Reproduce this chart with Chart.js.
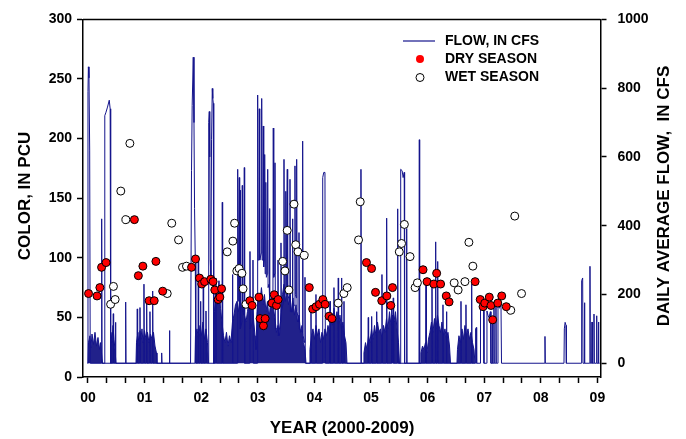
<!DOCTYPE html>
<html>
<head>
<meta charset="utf-8">
<script src="https://cdn.jsdelivr.net/npm/chart.js@4.4.1/dist/chart.umd.min.js"></script>
<style>
  html, body { margin: 0; padding: 0; background: #fff; }
  #wrap { width: 686px; height: 439px; }
</style>
</head>
<body>
<div id="wrap"><canvas id="colorChart" width="686" height="439"></canvas></div>
<script>
// tick labels for the year axis (one per year, minor ticks every 4 months)
const yearLabels = ['00', '01', '02', '03', '04', '05', '06', '07', '08', '09'];
const flowTicks = [0, 200, 400, 600, 800, 1000];

// color samples, [decimal year since 2000, PCU]
const dryPoints = [
  [0.01, 70], [0.16, 68], [0.21, 75], [0.24, 92], [0.32, 96], [0.82, 132], [0.89, 85], [0.97, 93],
  [1.08, 64], [1.17, 64], [1.20, 97], [1.32, 72], [1.83, 92], [1.90, 99], [1.97, 83], [2.01, 78],
  [2.06, 80], [2.17, 82], [2.21, 80], [2.24, 73], [2.30, 65], [2.33, 67], [2.36, 74], [2.86, 64],
  [2.90, 60], [3.02, 67], [3.04, 49], [3.10, 43], [3.13, 49], [3.25, 62], [3.29, 69], [3.33, 60],
  [3.36, 65], [3.91, 75], [3.97, 57], [4.03, 59], [4.09, 61], [4.15, 65], [4.19, 61], [4.26, 51],
  [4.31, 49], [4.92, 96], [5.01, 91], [5.08, 71], [5.19, 64], [5.28, 68], [5.35, 60], [5.38, 75],
  [5.92, 90], [5.99, 80], [6.11, 78], [6.16, 87], [6.23, 78], [6.33, 68], [6.38, 63], [6.84, 80],
  [6.93, 65], [6.98, 59], [7.01, 62], [7.09, 67], [7.12, 60], [7.15, 48], [7.24, 62], [7.31, 68],
  [7.39, 59]
];
const wetPoints = [
  [0.40, 61], [0.45, 76], [0.48, 65], [0.58, 156], [0.67, 132], [0.74, 196], [1.40, 70], [1.48, 129],
  [1.60, 115], [1.67, 92], [1.74, 93], [2.46, 105], [2.56, 114], [2.59, 129], [2.63, 89], [2.67, 91],
  [2.72, 87], [2.74, 74], [2.79, 61], [3.44, 97], [3.48, 89], [3.52, 123], [3.55, 73], [3.64, 145],
  [3.67, 111], [3.71, 105], [3.82, 102], [4.42, 62], [4.52, 70], [4.58, 75], [4.78, 115], [4.81, 147],
  [5.50, 105], [5.54, 112], [5.59, 128], [5.69, 101], [5.78, 75], [5.82, 79], [6.47, 79], [6.54, 73],
  [6.66, 80], [6.73, 113], [6.80, 93], [7.47, 56], [7.54, 135], [7.66, 70]
];

// daily average flow outline (peaks), [decimal year, cfs]
const flowPoints = [
  [-0.009, 0], [0.0, 790], [0.007, 862], [0.018, 830], [0.03, 620], [0.04, 0],
  [0.236, 0], [0.242, 420], [0.249, 0],
  [0.292, 0], [0.297, 720], [0.318, 730], [0.345, 745], [0.376, 765], [0.392, 740], [0.401, 0],
  [0.441, 0], [0.447, 144], [0.453, 0], [0.48, 0], [0.486, 119], [0.492, 0],
  [0.66, 0], [0.666, 178], [0.672, 0], [0.865, 0], [0.871, 158], [0.877, 0],
  [0.913, 0], [0.919, 162], [0.925, 0], [0.983, 0], [0.989, 230], [0.995, 0],
  [1.031, 0], [1.037, 176], [1.043, 0], [1.089, 0], [1.095, 150], [1.101, 0],
  [1.137, 0], [1.143, 210], [1.149, 0], [1.296, 0], [1.302, 30], [1.308, 0],
  [1.434, 0], [1.44, 95], [1.446, 0],
  [1.812, 0], [1.829, 560], [1.841, 750], [1.86, 890], [1.873, 700], [1.883, 450], [1.896, 300], [1.905, 0],
  [1.943, 0], [1.949, 296], [1.955, 0], [1.985, 0], [1.991, 180], [1.997, 0],
  [2.031, 0], [2.037, 224], [2.043, 0], [2.079, 0], [2.085, 152], [2.091, 0],
  [2.125, 0], [2.133, 700], [2.143, 732], [2.152, 600], [2.16, 300], [2.172, 250], [2.183, 650],
  [2.196, 799], [2.205, 770], [2.214, 756], [2.222, 0],
  [2.255, 0], [2.261, 248], [2.267, 0], [2.367, 0], [2.373, 468], [2.379, 0],
  [2.547, 0], [2.553, 258], [2.559, 0],
  [2.639, 0], [2.645, 564], [2.655, 180], [2.673, 540], [2.68, 160], [2.686, 503], [2.692, 100],
  [2.72, 120], [2.726, 517], [2.732, 150], [2.756, 140], [2.762, 569], [2.768, 0],
  [2.856, 0], [2.862, 325], [2.868, 100], [2.909, 120], [2.915, 300], [2.921, 0],
  [2.992, 0], [2.998, 780], [3.006, 300], [3.02, 320], [3.027, 740], [3.035, 300], [3.062, 320],
  [3.069, 770], [3.077, 300], [3.09, 320], [3.097, 690], [3.105, 280], [3.115, 300], [3.122, 607],
  [3.13, 260], [3.139, 280], [3.145, 526], [3.152, 250], [3.169, 260], [3.175, 564], [3.182, 220],
  [3.2, 230], [3.207, 450], [3.214, 180], [3.268, 200], [3.274, 684], [3.282, 250], [3.298, 260],
  [3.304, 583], [3.311, 100], [3.351, 100], [3.357, 300], [3.363, 80], [3.404, 120], [3.41, 350],
  [3.416, 150], [3.457, 180], [3.463, 593], [3.47, 200], [3.49, 210], [3.495, 500], [3.502, 200],
  [3.515, 200], [3.521, 564], [3.528, 200], [3.563, 180], [3.569, 535], [3.576, 150], [3.607, 150],
  [3.613, 420], [3.62, 160], [3.651, 170], [3.657, 574], [3.664, 200], [3.68, 190], [3.687, 593],
  [3.694, 150], [3.722, 120], [3.728, 380], [3.735, 100], [3.787, 90], [3.793, 646], [3.8, 80],
  [3.828, 60], [3.834, 250], [3.84, 0],
  [3.934, 0], [3.94, 150], [3.946, 0], [4.022, 0], [4.028, 200], [4.034, 0],
  [4.141, 0], [4.147, 540], [4.166, 555], [4.187, 555], [4.194, 0],
  [4.27, 0], [4.276, 180], [4.282, 0], [4.34, 0], [4.346, 220], [4.352, 0],
  [4.416, 0], [4.422, 248], [4.428, 0], [4.476, 0], [4.482, 248], [4.488, 0],
  [4.517, 0], [4.523, 180], [4.529, 0], [4.815, 0], [4.823, 564], [4.831, 0],
  [4.946, 0], [4.952, 133], [4.958, 0], [5.006, 0], [5.012, 136], [5.018, 0],
  [5.095, 0], [5.101, 150], [5.107, 0], [5.188, 0], [5.194, 258], [5.2, 0],
  [5.271, 0], [5.277, 422], [5.283, 0], [5.36, 0], [5.366, 180], [5.372, 0],
  [5.388, 0], [5.394, 190], [5.4, 0], [5.466, 0], [5.472, 449], [5.478, 0],
  [5.519, 0], [5.525, 564], [5.55, 560], [5.568, 540], [5.587, 555], [5.594, 0],
  [5.625, 0], [5.631, 392], [5.637, 0], [5.848, 0], [5.854, 650], [5.86, 0],
  [5.966, 0], [5.972, 239], [5.978, 0], [6.072, 0], [6.078, 240], [6.084, 0],
  [6.137, 0], [6.143, 353], [6.149, 0], [6.173, 0], [6.179, 296], [6.185, 0],
  [6.266, 0], [6.272, 170], [6.278, 0], [6.328, 0], [6.334, 150], [6.34, 0],
  [6.584, 0], [6.59, 180], [6.596, 0], [6.672, 0], [6.678, 170], [6.684, 0],
  [6.773, 0], [6.779, 230], [6.785, 0],
  [6.843, 0], [6.848, 100], [6.862, 104], [6.867, 0],
  [6.928, 0], [6.935, 181], [6.95, 160], [6.968, 170], [6.99, 181], [6.996, 0],
  [7.043, 0], [7.049, 152], [7.066, 140], [7.084, 133], [7.11, 150], [7.12, 0],
  [7.141, 0], [7.147, 120], [7.153, 0], [7.167, 0], [7.173, 160], [7.179, 0],
  [7.202, 0], [7.208, 175], [7.214, 0],
  [7.238, 0], [7.244, 171], [7.27, 160], [7.297, 172], [7.306, 0],
  [8.068, 0], [8.074, 78], [8.08, 0],
  [8.41, 0], [8.416, 100], [8.43, 119], [8.446, 110], [8.452, 0],
  [8.716, 0], [8.722, 240], [8.74, 248], [8.746, 0], [8.766, 0], [8.772, 176], [8.778, 0],
  [8.863, 0], [8.869, 282], [8.875, 0], [8.899, 0], [8.905, 120], [8.911, 0],
  [8.934, 0], [8.94, 143], [8.946, 0], [8.982, 0], [8.988, 138], [8.994, 0],
  [9.013, 0], [9.019, 120], [9.025, 0], [9.04, 0]
];

// low-flow bands where the daily line is too dense to separate, [decimal year, cfs]
const flowDensePoints = [
  [0.0, 0], [0.009, 60], [0.035, 80], [0.053, 45], [0.071, 85], [0.097, 55], [0.124, 90], [0.15, 50],
  [0.177, 75], [0.203, 40], [0.221, 60], [0.239, 30], [0.256, 0],
  [0.398, 0], [0.406, 90], [0.424, 60], [0.442, 110], [0.459, 70], [0.477, 40], [0.495, 0],
  [0.848, 0], [0.857, 60], [0.883, 90], [0.901, 50], [0.919, 95], [0.936, 70], [0.954, 100], [0.972, 60],
  [0.998, 95], [1.025, 70], [1.051, 90], [1.078, 60], [1.104, 85], [1.131, 70], [1.157, 90], [1.184, 50],
  [1.21, 30], [1.219, 0],
  [1.89, 0], [1.899, 80], [1.926, 100], [1.952, 70], [1.979, 110], [2.005, 80], [2.032, 120], [2.058, 70],
  [2.085, 100], [2.111, 60], [2.129, 0],
  [2.226, 0], [2.235, 150], [2.261, 220], [2.288, 170], [2.314, 240], [2.341, 160], [2.367, 120], [2.394, 80],
  [2.42, 60], [2.447, 90], [2.473, 50], [2.5, 80], [2.526, 60], [2.553, 120], [2.579, 140], [2.606, 170],
  [2.632, 180], [2.659, 150], [2.686, 190], [2.712, 160], [2.739, 180], [2.765, 140], [2.792, 120], [2.818, 150],
  [2.845, 180], [2.871, 160], [2.897, 190], [2.924, 130], [2.951, 80], [2.968, 40], [2.986, 150], [3.012, 200],
  [3.039, 180], [3.065, 220], [3.092, 170], [3.118, 200], [3.145, 150], [3.171, 180], [3.198, 130], [3.224, 170],
  [3.251, 200], [3.277, 160], [3.304, 130], [3.33, 90], [3.357, 110], [3.383, 80], [3.41, 150], [3.437, 200],
  [3.463, 230], [3.49, 180], [3.516, 220], [3.542, 170], [3.569, 200], [3.595, 150], [3.622, 190], [3.648, 140],
  [3.675, 170], [3.701, 120], [3.728, 140], [3.754, 90], [3.781, 110], [3.807, 60], [3.834, 40], [3.852, 0],
  [3.905, 0], [3.922, 40], [3.949, 80], [3.975, 100], [4.002, 70], [4.028, 110], [4.055, 80], [4.081, 100],
  [4.108, 60], [4.134, 90], [4.161, 70], [4.187, 100], [4.214, 80], [4.24, 110], [4.267, 90], [4.293, 130],
  [4.32, 110], [4.346, 160], [4.373, 120], [4.399, 150], [4.426, 110], [4.452, 140], [4.479, 100], [4.505, 120],
  [4.532, 80], [4.558, 60], [4.576, 0],
  [4.868, 0], [4.876, 30], [4.903, 60], [4.929, 40], [4.956, 80], [4.982, 60], [5.009, 100], [5.035, 70],
  [5.062, 110], [5.088, 80], [5.115, 120], [5.141, 90], [5.168, 100], [5.194, 70], [5.221, 110], [5.247, 90],
  [5.274, 130], [5.3, 100], [5.327, 150], [5.353, 110], [5.38, 140], [5.406, 120], [5.433, 150], [5.459, 100],
  [5.486, 60], [5.504, 0],
  [5.875, 0], [5.883, 30], [5.91, 50], [5.936, 40], [5.963, 60], [5.989, 30], [6.016, 70], [6.042, 90],
  [6.069, 120], [6.095, 90], [6.122, 130], [6.148, 100], [6.175, 140], [6.201, 110], [6.228, 90], [6.254, 120],
  [6.281, 80], [6.307, 100], [6.334, 70], [6.36, 90], [6.387, 50], [6.405, 0],
  [6.519, 0], [6.528, 40], [6.554, 80], [6.581, 60], [6.608, 100], [6.634, 70], [6.66, 110], [6.687, 80],
  [6.714, 100], [6.74, 70], [6.767, 90], [6.793, 60], [6.82, 40], [6.837, 0]
];

const FONT = "'Liberation Sans', Arial, sans-serif";
const flowColor = 'rgb(20, 20, 140)';
const toXY = pts => pts.map(p => ({ x: p[0], y: p[1] }));

// frame, axis titles and the legend inside the plot
const decorations = {
  id: 'decorations',
  beforeDraw(chart) {
    const c = chart.ctx;
    c.save();
    c.fillStyle = '#fff';
    c.fillRect(0, 0, chart.width, chart.height);
    c.restore();
  },
  afterDraw(chart) {
    const c = chart.ctx;
    const a = chart.chartArea;
    c.save();
    c.strokeStyle = '#000';
    c.lineWidth = 1.5;
    c.beginPath();
    c.moveTo(a.left, a.top);
    c.lineTo(a.right, a.top);
    c.stroke();

    c.fillStyle = '#000';
    c.font = 'bold 17px ' + FONT;
    c.textAlign = 'center';
    c.textBaseline = 'middle';
    c.fillText('YEAR (2000-2009)', 342, 428);

    c.save();
    c.translate(25, 196);
    c.rotate(-Math.PI / 2);
    c.fillText('COLOR, IN PCU', 0, 0);
    c.restore();

    c.save();
    c.translate(664, 196);
    c.rotate(-Math.PI / 2);
    c.fillText('DAILY AVERAGE FLOW,  IN CFS', 0, 0);
    c.restore();

    // legend
    c.strokeStyle = flowColor;
    c.lineWidth = 1.2;
    c.beginPath();
    c.moveTo(403, 41);
    c.lineTo(435, 41);
    c.stroke();

    c.lineWidth = 1;
    c.strokeStyle = '#000';
    c.fillStyle = '#ff0000';
    c.beginPath();
    c.arc(420, 59, 4, 0, Math.PI * 2);
    c.fill();
    c.fillStyle = '#fff';
    c.beginPath();
    c.arc(420, 77.5, 4, 0, Math.PI * 2);
    c.fill();
    c.stroke();

    c.fillStyle = '#000';
    c.font = 'bold 14px ' + FONT;
    c.textAlign = 'left';
    c.fillText('FLOW, IN CFS', 445, 41);
    c.fillText('DRY SEASON', 445, 59);
    c.fillText('WET SEASON', 445, 77.5);
    c.restore();
  }
};

const tickFont = { family: FONT, size: 14, weight: 'bold' };
const axisGrid = {
  drawOnChartArea: false,
  drawTicks: true,
  tickLength: 6,
  tickColor: '#000',
  tickWidth: 1.5
};
const axisBorder = { display: true, color: '#000', width: 1.5 };

new Chart(document.getElementById('colorChart'), {
  type: 'line',
  data: {
    datasets: [
      {
        label: 'DRY SEASON',
        data: toXY(dryPoints),
        yAxisID: 'y',
        showLine: false,
        pointRadius: 4,
        pointBorderWidth: 1,
        pointBackgroundColor: '#ff0000',
        pointBorderColor: '#000',
        order: 0
      },
      {
        label: 'WET SEASON',
        data: toXY(wetPoints),
        yAxisID: 'y',
        showLine: false,
        pointRadius: 4,
        pointBorderWidth: 1,
        pointBackgroundColor: '#fff',
        pointBorderColor: '#000',
        order: 0
      },
      {
        label: 'FLOW, IN CFS',
        data: toXY(flowPoints),
        yAxisID: 'y1',
        borderColor: flowColor,
        borderWidth: 1,
        pointRadius: 0,
        tension: 0,
        fill: false,
        order: 1
      },
      {
        label: 'flow dense',
        data: toXY(flowDensePoints),
        yAxisID: 'y1',
        borderColor: flowColor,
        borderWidth: 1,
        backgroundColor: 'rgba(14, 14, 128, 0.92)',
        pointRadius: 0,
        tension: 0,
        fill: 'origin',
        order: 2
      }
    ]
  },
  options: {
    responsive: false,
    animation: false,
    devicePixelRatio: 1,
    layout: { padding: { top: 15, left: 0, right: 0, bottom: 0 } },
    scales: {
      x: {
        type: 'linear',
        min: -0.088,
        max: 9.055,
        grid: axisGrid,
        border: axisBorder,
        afterBuildTicks: scale => {
          const ticks = [];
          for (let k = 0; k <= 27; k++) ticks.push({ value: k / 3 });
          scale.ticks = ticks;
        },
        afterFit: scale => { scale.height = 62; },
        ticks: {
          autoSkip: false,
          maxRotation: 0,
          padding: 7,
          color: '#000',
          font: tickFont,
          callback: value => {
            const r = Math.round(value);
            return Math.abs(value - r) < 1e-6 ? yearLabels[r] : '';
          }
        }
      },
      y: {
        position: 'left',
        min: 0,
        max: 300,
        grid: axisGrid,
        border: axisBorder,
        afterFit: scale => { scale.width = 83; },
        ticks: { stepSize: 50, padding: 5, color: '#000', font: tickFont }
      },
      y1: {
        position: 'right',
        min: -40,
        max: 1000,
        grid: axisGrid,
        border: axisBorder,
        afterBuildTicks: scale => {
          scale.ticks = flowTicks.map(v => ({ value: v }));
        },
        afterFit: scale => { scale.width = 85.5; },
        ticks: { padding: 11, color: '#000', font: tickFont, callback: value => String(value) }
      }
    },
    plugins: {
      legend: { display: false },
      tooltip: { enabled: false }
    }
  },
  plugins: [decorations]
});
</script>
</body>
</html>
